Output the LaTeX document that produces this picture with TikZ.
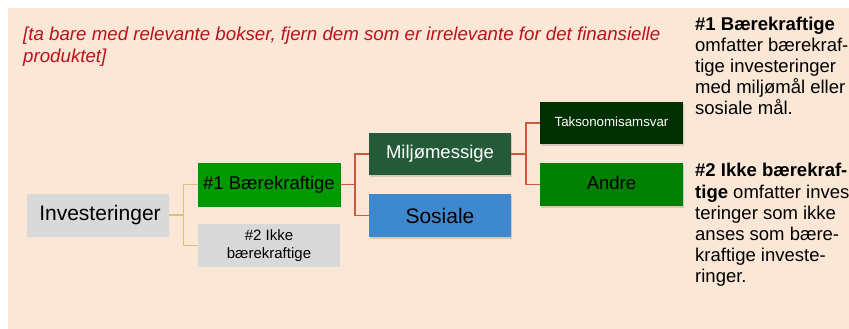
\documentclass[tikz,border=0pt]{standalone}
\usepackage{fontspec}
\setmainfont{Liberation Sans}
\usepackage{tikz}
\usetikzlibrary{shadows}
\definecolor{peach}{HTML}{FAE7D6}
\definecolor{boxgray}{HTML}{D9D9D9}
\definecolor{sgreen}{HTML}{009900}
\definecolor{envgreen}{HTML}{245A38}
\definecolor{taxgreen}{HTML}{003000}
\definecolor{othgreen}{HTML}{008000}
\definecolor{socblue}{HTML}{3E88CF}
\definecolor{linered}{HTML}{CC5A3A}
\definecolor{linetan}{HTML}{D3C47C}
\definecolor{notered}{HTML}{C0101E}
\newcommand{\branch}[4]{
    \draw[#1] (#2.east) -- ++(#4,0) |- (#3.west);
}

\begin{document}
\begin{tikzpicture}[x=1pt,y=-1pt,
        box/.style={minimum width=142pt, minimum height=43pt, inner sep=0pt, align=center},
        shade/.style={drop shadow={shadow xshift=1pt, shadow yshift=-2pt, opacity=.3}},
        redline/.style={linered, line width=1.9pt},
        tanline/.style={linetan, line width=1.4pt}]
        \clip (0,0) rectangle (849,329);
        \fill[peach] (8,8) rectangle (849,329);
        % note in red
        \node[anchor=north west, inner sep=0pt, align=left, text=notered,
            font=\fontsize{18.7}{22}\selectfont\itshape] (note) at (23,27)
            {[ta bare med relevante bokser, fjern dem som er irrelevante for det finansielle\\produktet]};
        % tree
        \node[box, fill=boxgray, font=\fontsize{21}{24}\selectfont] (inv) at (98,215) {\hspace{4pt}Investeringer};
        \node[box, fill=sgreen, draw=green!55!black!60!sgreen, font=\fontsize{18.5}{21}\selectfont] (sust) at (269,184.5) {\#1 Bærekraftige};
        \node[box, fill=boxgray, font=\fontsize{15}{17.5}\selectfont] (other) at (269,245.5) {\#2 Ikke\\bærekraftige};
        \node[box, shade, fill=envgreen, text=white, minimum height=42pt, font=\fontsize{18.5}{21}\selectfont] (env) at (440,154) {Miljømessige};
        \node[box, shade, fill=socblue, font=\fontsize{21}{24}\selectfont] (soc) at (440,215.5) {Sosiale};
        \node[box, shade, fill=taxgreen, text=white, minimum width=143pt, minimum height=42pt, font=\fontsize{13.3}{16}\selectfont] (tax) at (611.5,123) {\raisebox{3pt}{Taksonomisamsvar}};
        \node[box, shade, fill=othgreen, minimum width=143pt, font=\fontsize{18.5}{21}\selectfont] (oth) at (611.5,184.5) {\raisebox{3pt}{Andre}};
        \branch{tanline}{inv}{sust}{14}
        \branch{tanline}{inv}{other}{14}
        \branch{redline}{sust}{env}{15}
        \branch{redline}{sust}{soc}{15}
        \branch{redline}{env}{tax}{15}
        \branch{redline}{env}{oth}{15}
        % explanations
        \node[anchor=north west, inner sep=0pt, align=left, font=\fontsize{18.5}{21.2}\selectfont] (def1) at (695,16.5)
            {\textbf{\#1 Bærekraftige}\\omfatter bærekraf-\\tige investeringer\\med miljømål eller\\sosiale mål.};
        \node[anchor=north west, inner sep=0pt, align=left, font=\fontsize{18.5}{21.2}\selectfont] (def2) at (695,163.2)
            {\textbf{\#2 Ikke bærekraf-}\\\textbf{tige} omfatter inves-\\teringer som ikke\\anses som bære-\\kraftige investe-\\ringer.};
    \end{tikzpicture}
\end{document}
